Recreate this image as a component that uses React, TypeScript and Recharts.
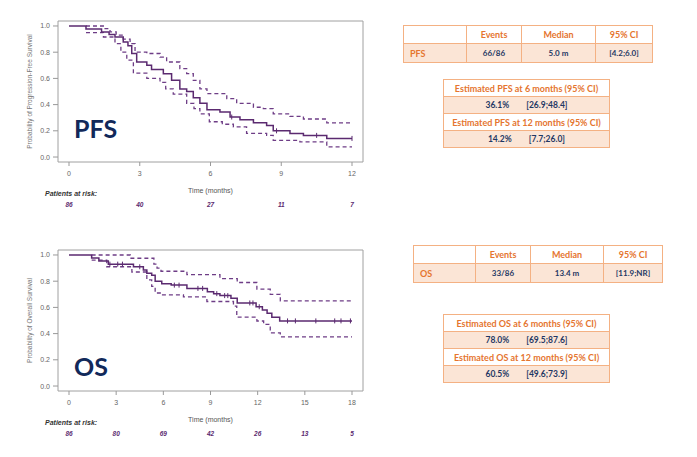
import React from "react"
import { ComposedChart, Line, Scatter, XAxis, YAxis, ReferenceArea } from "recharts"

// PFS curve (months, survival probability)
const pfsTicks = [0, 3, 6, 9, 12]
const pfsAtRisk = [86, 40, 27, 11, 7]
const pfsTime = [0, 0.72, 1.38, 1.7, 1.95, 2.3, 2.5, 2.66, 2.87, 3.3, 3.5, 4.0, 4.35, 4.7, 4.99, 5.27, 5.55, 5.85, 6.4, 6.83, 7.25, 7.82, 8.38, 8.66, 9.37, 9.94, 10.93, 12]
const pfsSurv = [1.0, 0.977, 0.955, 0.935, 0.916, 0.878, 0.85, 0.79, 0.725, 0.7, 0.667, 0.636, 0.585, 0.52, 0.5, 0.453, 0.41, 0.361, 0.343, 0.305, 0.285, 0.262, 0.24, 0.2, 0.18, 0.165, 0.142, 0.142]
const pfsUpperTime = [0.72, 1.53, 1.74, 2.0, 2.3, 2.59, 2.8, 3.3, 3.86, 4.14, 4.7, 4.99, 5.27, 5.55, 5.85, 6.69, 7.11, 7.82, 8.24, 8.66, 9.37, 9.94, 10.93, 12]
const pfsUpper = [1.0, 0.98, 0.955, 0.93, 0.9, 0.865, 0.8, 0.79, 0.763, 0.725, 0.674, 0.636, 0.585, 0.52, 0.484, 0.445, 0.41, 0.38, 0.37, 0.33, 0.31, 0.29, 0.26, 0.26]
const pfsLowerTime = [0.72, 1.46, 1.95, 2.2, 2.45, 2.73, 3.3, 3.86, 4.1, 4.42, 4.99, 5.3, 5.55, 5.95, 6.5, 6.97, 7.53, 8.38, 8.66, 9.79, 10.93, 12]
const pfsLower = [0.95, 0.916, 0.865, 0.8, 0.74, 0.64, 0.6, 0.57, 0.52, 0.48, 0.41, 0.37, 0.33, 0.269, 0.25, 0.23, 0.18, 0.165, 0.127, 0.115, 0.077, 0.077]
const pfsCensored = [6.9, 8.8, 10.5, 12]

// OS curve
const osTicks = [0, 3, 6, 9, 12, 15, 18]
const osAtRisk = [86, 80, 69, 42, 26, 13, 5]
const osTime = [0, 1.44, 1.9, 2.5, 4.1, 4.73, 4.95, 5.26, 5.48, 5.9, 6.5, 7.5, 8.8, 9.2, 9.6, 10.3, 10.7, 11.9, 12.3, 12.6, 12.9, 13.4, 18]
const osSurv = [1.0, 0.977, 0.955, 0.93, 0.91, 0.885, 0.86, 0.845, 0.8, 0.78, 0.77, 0.745, 0.72, 0.705, 0.69, 0.67, 0.634, 0.605, 0.58, 0.555, 0.525, 0.497, 0.497]
const osUpperTime = [1.44, 3.9, 5.4, 5.6, 5.85, 7.5, 9.6, 10.7, 11.95, 12.8, 13.44, 18]
const osUpper = [1.0, 0.975, 0.93, 0.9, 0.876, 0.85, 0.82, 0.79, 0.739, 0.7, 0.65, 0.65]
const osLowerTime = [1.44, 2.4, 4.0, 4.95, 5.26, 5.48, 5.9, 7.28, 8.77, 10.46, 10.67, 11.95, 12.38, 12.8, 13.44, 18]
const osLower = [0.96, 0.91, 0.87, 0.81, 0.76, 0.71, 0.695, 0.68, 0.645, 0.61, 0.525, 0.496, 0.47, 0.405, 0.375, 0.375]
const osCensored = [2.6, 3.1, 3.4, 4.5, 6.7, 7.0, 8.2, 8.5, 9.4, 9.9, 10.1, 11.5, 11.7, 12.1, 13.9, 14.4, 15.7, 16.9, 17.3, 17.9]

const yTicks = [0, 0.2, 0.4, 0.6, 0.8, 1.0]

const PURPLE = "#5b2a70"
const PURPLE_DASH = "#6e3d86"
const ORANGE = "#e5752f"
const ORANGE_LINE = "#f4b183"
const PEACH = "#fbe5d6"
const NAVY = "#1f3864"
const AXIS_FONT = "'Liberation Sans', Arial, sans-serif"
const TABLE_FONT = "Lato, 'Open Sans', sans-serif"

const toSteps = (t: number[], s: number[]) => t.map((x, i) => ({ t: x, s: s[i] }))

const stepValue = (t: number[], s: number[], at: number) => {
  let v = s[0]
  t.forEach((x, i) => {
    if (x <= at) v = s[i]
  })
  return v
}

const CensorMark = (props: any) => {
  const { cx, cy } = props
  if (cx == null || cy == null) return null
  return <line x1={cx} x2={cx} y1={cy - 2.5} y2={cy + 2.5} stroke={PURPLE} strokeWidth={1} />
}

interface KMProps {
  top: number
  tagTop: number
  ticks: number[]
  atRisk: number[]
  time: number[]
  surv: number[]
  upperTime: number[]
  upper: number[]
  lowerTime: number[]
  lower: number[]
  censored: number[]
  yLabel: string
  tag: string
}

function KMChart({ top, tagTop, ticks, atRisk, time, surv, upperTime, upper, lowerTime, lower, censored, yLabel, tag }: KMProps) {
  const maxT = ticks[ticks.length - 1]
  const pad = (maxT * 11) / 283
  const xDomain = [-pad, maxT + pad]
  const yDomain = [-0.038, 1.038]
  const main = toSteps(time, surv)
  const marks = censored.map((c) => ({ t: c, s: stepValue(time, surv, c) }))
  const tickStyle = { fontSize: 7, fill: "#666", fontFamily: AXIS_FONT }

  return (
    <div style={{ position: "absolute", left: 0, top, width: 380, height: 215 }}>
      <ComposedChart width={380} height={215} margin={{ top: 21, right: 17, bottom: 3, left: 0 }}>
        <XAxis
          xAxisId="main"
          dataKey="t"
          type="number"
          domain={xDomain}
          ticks={ticks}
          interval={0}
          allowDataOverflow
          axisLine={false}
          tickLine={{ stroke: "#999" }}
          tickSize={4}
          tickMargin={5}
          tick={tickStyle}
          height={36}
          label={{ value: "Time (months)", position: "insideBottom", offset: 5, style: { fontSize: 7, fill: "#555", fontFamily: AXIS_FONT } }}
        />
        <XAxis
          xAxisId="risk"
          dataKey="t"
          type="number"
          domain={xDomain}
          ticks={ticks}
          interval={0}
          allowDataOverflow
          axisLine={false}
          tickLine={false}
          tickSize={0}
          tickMargin={4}
          height={14}
          tick={{ fontSize: 6.5, fill: PURPLE, fontFamily: AXIS_FONT, fontStyle: "italic", fontWeight: 700 }}
          tickFormatter={(v: number) => String(atRisk[ticks.indexOf(v)])}
        />
        <YAxis
          yAxisId="main"
          type="number"
          domain={yDomain}
          ticks={yTicks}
          allowDataOverflow
          axisLine={false}
          tickLine={{ stroke: "#999" }}
          tickSize={5}
          tickMargin={3}
          tick={tickStyle}
          tickFormatter={(v: number) => v.toFixed(1)}
          width={58}
          label={{ value: yLabel, angle: -90, position: "insideLeft", offset: 30, style: { fontSize: 6.5, fill: "#777", fontFamily: AXIS_FONT, textAnchor: "middle" } }}
        />
        <ReferenceArea
          xAxisId="main"
          yAxisId="main"
          x1={xDomain[0]}
          x2={xDomain[1]}
          y1={yDomain[0]}
          y2={yDomain[1]}
          fill="none"
          stroke="#a0a0a0"
          strokeWidth={1}
          ifOverflow="visible"
        />
        <Line
          xAxisId="main"
          yAxisId="main"
          data={toSteps(upperTime, upper)}
          dataKey="s"
          type="stepAfter"
          stroke={PURPLE_DASH}
          strokeWidth={1.3}
          strokeDasharray="4 3"
          dot={false}
          isAnimationActive={false}
        />
        <Line
          xAxisId="main"
          yAxisId="main"
          data={toSteps(lowerTime, lower)}
          dataKey="s"
          type="stepAfter"
          stroke={PURPLE_DASH}
          strokeWidth={1.3}
          strokeDasharray="4 3"
          dot={false}
          isAnimationActive={false}
        />
        <Line
          xAxisId="main"
          yAxisId="main"
          data={main}
          dataKey="s"
          type="stepAfter"
          stroke={PURPLE}
          strokeWidth={1.5}
          dot={false}
          isAnimationActive={false}
        />
        <Scatter xAxisId="main" yAxisId="main" data={marks} dataKey="s" shape={CensorMark} isAnimationActive={false} />
      </ComposedChart>
      <div
        style={{
          position: "absolute",
          left: 45,
          top: 190,
          fontSize: 7,
          lineHeight: "8px",
          fontFamily: AXIS_FONT,
          fontStyle: "italic",
          fontWeight: 700,
          color: "#333",
        }}
      >
        Patients at risk:
      </div>
      <div
        style={{
          position: "absolute",
          left: 74,
          top: tagTop,
          fontSize: 25,
          lineHeight: "25px",
          fontFamily: TABLE_FONT,
          fontWeight: 700,
          color: "#12295a",
        }}
      >
        {tag}
      </div>
    </div>
  )
}

const cell = (w: number, extra: React.CSSProperties = {}): React.CSSProperties => ({
  width: w,
  border: `1.5px solid ${ORANGE_LINE}`,
  padding: 0,
  textAlign: "center",
  ...extra,
})

function SummaryTable({ left, top, widths, name, events, median, ci }: { left: number; top: number; widths: number[]; name: string; events: string; median: string; ci: string }) {
  const head: React.CSSProperties = { color: ORANGE, fontWeight: 700, fontSize: 9, height: 17 }
  const val: React.CSSProperties = { color: NAVY, fontWeight: 700, fontSize: 8, height: 18, background: PEACH }
  return (
    <table
      style={{
        position: "absolute",
        left,
        top,
        borderCollapse: "collapse",
        fontFamily: TABLE_FONT,
        tableLayout: "fixed",
      }}
    >
      <tbody>
        <tr>
          <td style={cell(widths[0], head)}></td>
          <td style={cell(widths[1], head)}>Events</td>
          <td style={cell(widths[2], head)}>Median</td>
          <td style={cell(widths[3], head)}>95% CI</td>
        </tr>
        <tr>
          <td style={cell(widths[0], { ...val, color: ORANGE, fontSize: 9, textAlign: "left", paddingLeft: 6 })}>{name}</td>
          <td style={cell(widths[1], val)}>{events}</td>
          <td style={cell(widths[2], val)}>{median}</td>
          <td style={cell(widths[3], val)}>{ci}</td>
        </tr>
      </tbody>
    </table>
  )
}

function EstimateTable({ top, rows }: { top: number; rows: { title: string; value: string; ci: string }[] }) {
  return (
    <table
      style={{
        position: "absolute",
        left: 443,
        top,
        width: 167,
        borderCollapse: "collapse",
        fontFamily: TABLE_FONT,
      }}
    >
      <tbody>
        {rows.map((r) => (
          <React.Fragment key={r.title}>
            <tr>
              <td style={cell(167, { color: ORANGE, fontWeight: 700, fontSize: 9, height: 16 })}>{r.title}</td>
            </tr>
            <tr>
              <td style={cell(167, { color: NAVY, fontWeight: 700, fontSize: 8.5, height: 16, background: PEACH })}>
                <span>{r.value}</span>
                <span style={{ marginLeft: 17 }}>{r.ci}</span>
              </td>
            </tr>
          </React.Fragment>
        ))}
      </tbody>
    </table>
  )
}

const pfsEstimates = [
  { title: "Estimated PFS at 6 months (95% CI)", value: "36.1%", ci: "[26.9;48.4]" },
  { title: "Estimated PFS at 12 months (95% CI)", value: "14.2%", ci: "[7.7;26.0]" },
]
const osEstimates = [
  { title: "Estimated OS at 6 months (95% CI)", value: "78.0%", ci: "[69.5;87.6]" },
  { title: "Estimated OS at 12 months (95% CI)", value: "60.5%", ci: "[49.6;73.9]" },
]

export default function App() {
  return (
    <div style={{ position: "absolute", left: 0, top: 0, width: 697, height: 457, background: "#fff" }}>
      <KMChart
        top={0}
        tagTop={116}
        ticks={pfsTicks}
        atRisk={pfsAtRisk}
        time={pfsTime}
        surv={pfsSurv}
        upperTime={pfsUpperTime}
        upper={pfsUpper}
        lowerTime={pfsLowerTime}
        lower={pfsLower}
        censored={pfsCensored}
        yLabel="Probability of Progression-Free Survival"
        tag="PFS"
      />
      <KMChart
        top={229}
        tagTop={125}
        ticks={osTicks}
        atRisk={osAtRisk}
        time={osTime}
        surv={osSurv}
        upperTime={osUpperTime}
        upper={osUpper}
        lowerTime={osLowerTime}
        lower={osLower}
        censored={osCensored}
        yLabel="Probability of Overall Survival"
        tag="OS"
      />
      <SummaryTable left={403} top={25} widths={[56, 54, 73, 56]} name="PFS" events="66/86" median="5.0 m" ci="[4.2;6.0]" />
      <EstimateTable top={79} rows={pfsEstimates} />
      <SummaryTable left={413} top={245} widths={[55, 54, 72, 58]} name="OS" events="33/86" median="13.4 m" ci="[11.9;NR]" />
      <EstimateTable top={314} rows={osEstimates} />
    </div>
  )
}
